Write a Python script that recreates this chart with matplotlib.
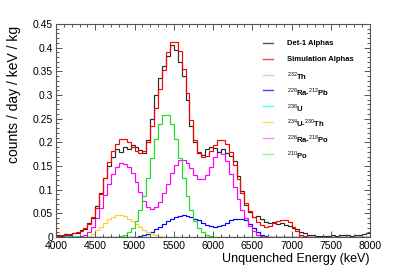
import numpy as np
import matplotlib
matplotlib.use("Agg")
import matplotlib.pyplot as plt
from matplotlib.ticker import MultipleLocator, FormatStrFormatter
from matplotlib.lines import Line2D

plt.rcParams['font.family'] = ['Liberation Sans', 'DejaVu Sans']
plt.rcParams['mathtext.fontset'] = 'custom'
plt.rcParams['mathtext.rm'] = 'Liberation Sans'
plt.rcParams['mathtext.bf'] = 'Liberation Sans:bold'

# bin edges (keV)
e_min, e_max, bin_w = 4000, 8000, 50
edges = np.arange(e_min, e_max + bin_w, bin_w)

det1_alphas = [0.004, 0.003, 0.006, 0.005, 0.009, 0.008, 0.014, 0.016, 0.030, 0.040,
               0.066, 0.092, 0.125, 0.150, 0.170, 0.185, 0.180, 0.190, 0.186, 0.194,
               0.190, 0.184, 0.178, 0.205, 0.250, 0.300, 0.335, 0.362, 0.383, 0.405,
               0.395, 0.370, 0.340, 0.290, 0.235, 0.200, 0.178, 0.174, 0.186, 0.190,
               0.188, 0.180, 0.185, 0.178, 0.172, 0.160, 0.128, 0.098, 0.068, 0.052,
               0.042, 0.045, 0.038, 0.032, 0.030, 0.031, 0.028, 0.030, 0.025, 0.024,
               0.020, 0.016, 0.010, 0.008, 0.005, 0.004, 0.003, 0.003, 0.002, 0.003,
               0.004, 0.003, 0.005, 0.004, 0.004, 0.003, 0.005, 0.004, 0.006, 0.008]

sim_alphas = [0.003, 0.004, 0.005, 0.006, 0.008, 0.010, 0.013, 0.018, 0.027, 0.042,
              0.062, 0.090, 0.125, 0.158, 0.182, 0.197, 0.206, 0.207, 0.201, 0.191,
              0.182, 0.178, 0.182, 0.200, 0.235, 0.272, 0.312, 0.352, 0.390, 0.413,
              0.412, 0.392, 0.355, 0.305, 0.248, 0.205, 0.180, 0.170, 0.172, 0.182,
              0.195, 0.204, 0.205, 0.196, 0.180, 0.152, 0.122, 0.094, 0.072, 0.055,
              0.042, 0.032, 0.025, 0.022, 0.024, 0.029, 0.034, 0.036, 0.035, 0.031,
              0.022, 0.012, 0.005, 0.002, 0.001] + [0.0] * 15

th232 = [0.003, 0.002, 0.001] + [0.0] * 77

ra228_pb212 = [0.0] * 20 + [0.001, 0.002, 0.004, 0.007, 0.011, 0.016, 0.022, 0.028, 0.034, 0.039,
                            0.043, 0.045, 0.046, 0.045, 0.043, 0.039, 0.035, 0.030, 0.026, 0.023,
                            0.022, 0.023, 0.026, 0.030, 0.035, 0.038, 0.039, 0.039, 0.035, 0.028,
                            0.018, 0.010, 0.005, 0.002, 0.001] + [0.0] * 25

u238 = [0.001, 0.002, 0.003, 0.003, 0.003, 0.002, 0.001] + [0.0] * 73

u234_th230 = [0.0] * 7 + [0.001, 0.003, 0.007, 0.014, 0.022, 0.030, 0.038, 0.043, 0.046, 0.046,
                          0.044, 0.039, 0.033, 0.027, 0.021, 0.015, 0.010, 0.006, 0.004, 0.002,
                          0.001] + [0.0] * 52

ra226_po218 = [0.0, 0.0, 0.0, 0.0, 0.0, 0.001,
               0.002, 0.004, 0.010, 0.022, 0.040, 0.062, 0.088, 0.112, 0.133, 0.148,
               0.156, 0.155, 0.148, 0.135, 0.116, 0.095, 0.076, 0.063, 0.059, 0.063,
               0.075, 0.092, 0.113, 0.135, 0.152, 0.162, 0.163, 0.157, 0.145, 0.132,
               0.123, 0.122, 0.130, 0.148, 0.168, 0.179, 0.176, 0.160, 0.134, 0.106,
               0.080, 0.058, 0.040, 0.024, 0.012, 0.005, 0.002] + [0.0] * 27

po210 = [0.0] * 15 + [0.001, 0.002, 0.005, 0.010, 0.019, 0.033, 0.056, 0.086, 0.124, 0.166,
                      0.207, 0.239, 0.258, 0.258, 0.239, 0.207, 0.166, 0.124, 0.086, 0.056,
                      0.033, 0.019, 0.010, 0.005, 0.002, 0.001] + [0.0] * 39

labels = ['Det-1 Alphas', 'Simulation Alphas', r'$^{232}$Th', r'$^{228}$Ra-$^{212}$Pb',
          r'$^{238}$U', r'$^{234}$U-$^{230}$Th', r'$^{226}$Ra-$^{218}$Po', r'$^{210}$Po']

W, H = 399, 270
fig = plt.figure(figsize=(W / 100, H / 100), dpi=100)
ax = fig.add_axes([56 / W, (H - 237) / H, 314 / W, 213 / H])

lw = 0.85
components = [
    (th232, '#c8c8c8'),
    (ra228_pb212, '#0000ff'),
    (u238, '#00e5e5'),
    (u234_th230, '#ffcc33'),
    (ra226_po218, '#ff00ff'),
    (po210, '#22dd22'),
]
for vals, col in components:
    ax.stairs(vals, edges, color=col, lw=lw, baseline=None)
ax.stairs(det1_alphas, edges, color='#2a2a2a', lw=lw, baseline=None)
ax.stairs(sim_alphas, edges, color='#ff0000', lw=lw, baseline=None)

ax.set_xlim(e_min, e_max)
ax.set_ylim(0, 0.45)
ax.xaxis.set_major_locator(MultipleLocator(500))
ax.xaxis.set_minor_locator(MultipleLocator(100))
ax.yaxis.set_major_locator(MultipleLocator(0.05))
ax.yaxis.set_minor_locator(MultipleLocator(0.01))
ax.yaxis.set_major_formatter(FormatStrFormatter('%g'))
ax.tick_params(which='both', direction='in', top=True, right=True, labelsize=7.5,
               color='#555555', pad=2)
ax.tick_params(axis='x', pad=3)
ax.tick_params(which='major', length=4.5, width=0.7)
ax.tick_params(which='minor', length=2.2, width=0.7)
for s in ax.spines.values():
    s.set_color('#555555')
    s.set_linewidth(0.8)

fig.text(370 / W, 1 - 259 / H, 'Unquenched Energy (keV)', ha='right', va='center', fontsize=9)
fig.text(14 / W, 1 - 26 / H, 'counts / day / keV / kg', ha='center', va='top', rotation=90, fontsize=10)

# legend (drawn as figure artists, rows placed like the reference)
leg_colors = ['#555555', '#ff4444', '#d0d0d0', '#4444ff', '#44ffff', '#ffdd55', '#ff88ff', '#88ff88']
for i, (lab, col) in enumerate(zip(labels, leg_colors)):
    yy = 1 - (42.7 + 15.9 * i) / H
    fig.add_artist(Line2D([263 / W, 273 / W], [yy, yy], color=col, lw=1.0,
                          transform=fig.transFigure))
    fig.text(287 / W, yy, lab, ha='left', va='center_baseline', fontsize=5.5, fontweight='bold')

fig.savefig('out.png', dpi=100)
